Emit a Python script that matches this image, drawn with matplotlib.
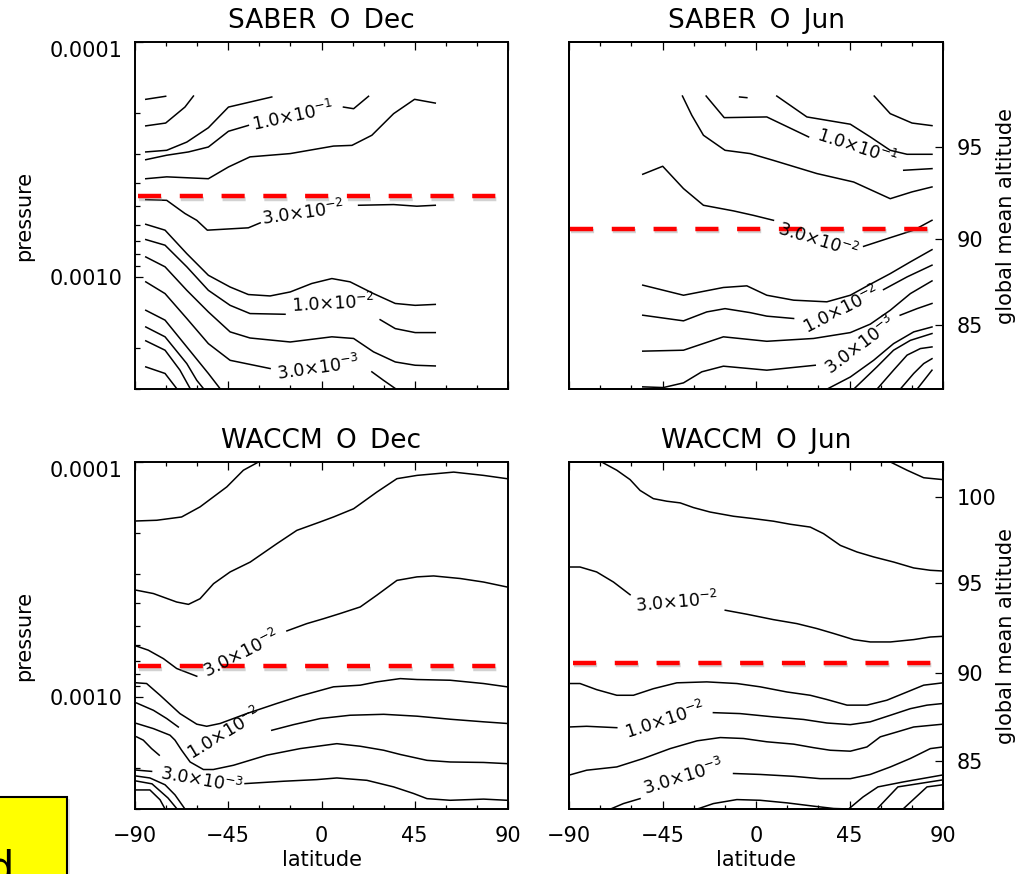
import numpy as np
import matplotlib
matplotlib.use("Agg")
import matplotlib.pyplot as plt
from matplotlib import patheffects as pe
from matplotlib.patches import Rectangle
from matplotlib.transforms import ScaledTranslation
from matplotlib.ticker import FixedLocator, FixedFormatter, LogLocator, NullFormatter, NullLocator, MultipleLocator

plt.rcParams['font.family'] = ['DejaVu Sans']
plt.rcParams['mathtext.fontset'] = 'dejavusans'

# ---------------- data: contour lines as (latitude, log10 pressure) ----------------
saber_dec_lines = [
    ([-84.8, -75.2], [-3.756, -3.769]),
    ([-84.8, -75.2, -65.9, -61.8], [-3.643, -3.655, -3.723, -3.770]),
    ([-84.8, -74.7, -65.0, -54.6, -44.9, -24.0], [-3.532, -3.539, -3.574, -3.635, -3.723, -3.766]),
    ([-84.8, -74.7, -64.2, -54.6, -44.9, -35.3], [-3.499, -3.518, -3.532, -3.553, -3.620, -3.645]),
    ([10.6, 15.5, 22.7], [-3.723, -3.716, -3.769]),
    ([-84.8, -74.7, -54.6, -44.9, -34.5, -15.1, 5.8, 14.7, 24.3, 34.8, 44.9, 54.9],
     [-3.418, -3.426, -3.418, -3.468, -3.511, -3.525, -3.557, -3.560, -3.603, -3.695, -3.756, -3.740]),
    ([-84.8, -74.7, -65.9, -60.2, -55.1, -35.3, -29.6], [-3.329, -3.326, -3.270, -3.241, -3.199, -3.209, -3.230]),
    ([17.9, 34.8, 46.0, 54.9], [-3.305, -3.308, -3.301, -3.305]),
    ([-84.8, -75.5, -65.0, -54.6, -44.1, -35.3, -24.8, -15.1, -4.7, 5.0, 13.8, 25.1, 35.6, 45.2, 54.9],
     [-3.224, -3.199, -3.099, -3.007, -2.957, -2.925, -2.919, -2.936, -2.972, -2.993, -2.979, -2.929, -2.887, -2.879, -2.883]),
    ([-84.8, -75.5, -65.0, -54.6, -44.1, -34.5, -17.6], [-3.159, -3.135, -3.043, -2.943, -2.879, -2.844, -2.841]),
    ([28.3, 35.6, 45.2, 54.9], [-2.818, -2.780, -2.763, -2.763]),
    ([-84.8, -75.5, -65.0, -54.6, -44.1, -34.5, -15.1, 5.0, 15.5, 25.1, 35.6, 45.2, 54.9],
     [-3.085, -3.043, -2.943, -2.851, -2.766, -2.740, -2.723, -2.745, -2.738, -2.681, -2.638, -2.624, -2.621]),
    ([-84.8, -75.5, -65.0, -54.6, -44.1, -24.8], [-2.979, -2.929, -2.823, -2.716, -2.645, -2.610]),
    ([24.3, 29.9, 35.6], [-2.596, -2.560, -2.525]),
    ([-84.8, -75.5, -65.0, -54.6, -49.0], [-2.858, -2.816, -2.702, -2.589, -2.525]),
    ([-84.8, -75.5, -65.0, -60.2, -57.0], [-2.787, -2.745, -2.631, -2.560, -2.525]),
    ([-84.8, -75.5, -68.3, -63.4], [-2.728, -2.688, -2.603, -2.525]),
    ([-84.8, -75.5, -69.9], [-2.617, -2.589, -2.525]),
]
saber_dec_labels = [
    (r'1.0$\times$10$^{-1}$', -13.5, -3.681, 12),
    (r'3.0$\times$10$^{-2}$', -8.7, -3.270, 8),
    (r'1.0$\times$10$^{-2}$', 5.8, -2.887, 3),
    (r'3.0$\times$10$^{-3}$', -1.5, -2.610, 8),
]

saber_jun_lines = [
    ([-35.4, -30.9, -25.3, -14.9, -2.8, 8.4, 29.3, 47.0, 64.6, 75.1, 84.7],
     [-3.770, -3.688, -3.603, -3.539, -3.525, -3.496, -3.440, -3.404, -3.333, -3.362, -3.383]),
    ([-24.0, -15.3, 5.2, 25.3], [-3.770, -3.678, -3.681, -3.596]),
    ([71.1, 84.7], [-3.454, -3.461]),
    ([10.0, 24.5, 45.4, 55.0, 64.6, 72.7, 84.7], [-3.770, -3.681, -3.650, -3.596, -3.539, -3.522, -3.522]),
    ([-7.9, -4.4], [-3.766, -3.763]),
    ([56.9, 64.6, 75.1, 84.7], [-3.770, -3.695, -3.655, -3.644]),
    ([-54.5, -44.9, -34.9, -25.3, -10.8, -1.2, 8.4], [-3.437, -3.471, -3.376, -3.305, -3.281, -3.262, -3.241]),
    ([51.8, 64.6, 75.9, 84.7], [-3.130, -3.167, -3.199, -3.241]),
    ([-54.5, -34.9, -15.7, -4.4, 5.2, 18.1, 34.1, 45.4, 54.2, 64.6, 74.3, 84.7],
     [-2.965, -2.922, -2.955, -2.962, -2.922, -2.901, -2.894, -2.922, -2.965, -3.014, -3.064, -3.116]),
    ([-54.5, -34.9, -23.7, -14.9, -2.8, 5.2, 18.1], [-2.837, -2.813, -2.851, -2.865, -2.848, -2.833, -2.823]),
    ([61.4, 72.7, 84.7], [-2.946, -3.000, -3.050]),
    ([-54.5, -34.9, -15.7, 5.2, 27.7, 45.4, 55.0, 64.6, 74.3, 84.7],
     [-2.684, -2.688, -2.745, -2.726, -2.738, -2.763, -2.799, -2.858, -2.929, -2.983]),
    ([-54.5, -44.6, -34.9, -26.1, -15.7, 5.2, 28.5], [-2.532, -2.529, -2.549, -2.596, -2.620, -2.603, -2.624]),
    ([69.4, 77.5, 84.7], [-2.837, -2.865, -2.887]),
    ([34.1, 45.4, 56.6, 66.2, 75.9, 84.7], [-2.522, -2.574, -2.645, -2.716, -2.766, -2.787]),
    ([47.0, 58.2, 66.2, 74.3, 84.7], [-2.522, -2.617, -2.688, -2.730, -2.759]),
    ([58.2, 66.2, 72.7, 79.1, 84.7], [-2.522, -2.603, -2.667, -2.695, -2.702]),
    ([69.4, 75.9, 80.7, 84.7], [-2.522, -2.589, -2.631, -2.652]),
    ([77.5, 84.7], [-2.522, -2.603]),
]
saber_jun_labels = [
    (r'1.0$\times$10$^{-1}$', 48.6, -3.553, -18),
    (r'3.0$\times$10$^{-2}$', 30.1, -3.156, -17),
    (r'1.0$\times$10$^{-2}$', 41.3, -2.858, 27),
    (r'3.0$\times$10$^{-3}$', 50.2, -2.709, 37),
]

waccm_dec_lines = [
    ([-89.2, -79.5, -67.5, -58.6, -45.7, -37.7, -30.4], [-3.749, -3.752, -3.766, -3.809, -3.894, -3.965, -4.0]),
    ([-89.2, -81.1, -69.9, -64.2, -58.6, -52.1, -44.1, -34.4, -21.6, -11.9, -0.6, 5.8, 15.5, 26.7, 36.4, 46.1, 63.8, 78.2, 89.5],
     [-3.454, -3.440, -3.404, -3.394, -3.418, -3.482, -3.532, -3.574, -3.652, -3.709, -3.745, -3.766, -3.801, -3.872, -3.929, -3.943, -3.957, -3.943, -3.929]),
    ([-89.2, -83.6, -76.3, -69.9, -60.2], [-3.216, -3.199, -3.163, -3.121, -3.088]),
    ([-16.7, -7.1, 1.0, 9.0, 18.7, 26.7, 36.4, 46.1, 54.1, 67.0, 78.2, 89.5],
     [-3.281, -3.312, -3.333, -3.355, -3.383, -3.433, -3.496, -3.511, -3.515, -3.504, -3.489, -3.468]),
    ([-89.2, -84.4, -77.9, -68.3, -60.2, -55.4, -48.9, -36.1, -21.6, -10.3, 5.8, 18.7, 26.7, 38.0, 46.1, 62.1, 78.2, 89.5],
     [-3.060, -3.057, -3.007, -2.929, -2.884, -2.875, -2.887, -2.929, -2.972, -3.004, -3.043, -3.050, -3.064, -3.078, -3.074, -3.071, -3.057, -3.043]),
    ([-89.2, -81.1, -74.7, -69.1], [-2.974, -2.943, -2.908, -2.872]),
    ([-24.0, -13.5, -0.6, 13.8, 30.0, 46.1, 62.1, 78.2, 89.5],
     [-2.858, -2.882, -2.908, -2.922, -2.926, -2.918, -2.905, -2.894, -2.887]),
    ([-89.2, -81.1, -73.1, -70.7, -67.5, -63.4, -57.0, -52.2, -42.5, -26.4, -10.3, 7.4, 18.7, 30.0, 38.0, 50.9, 62.1, 78.2, 89.5],
     [-2.887, -2.865, -2.837, -2.816, -2.773, -2.723, -2.691, -2.691, -2.709, -2.752, -2.780, -2.801, -2.790, -2.773, -2.755, -2.730, -2.723, -2.721, -2.716]),
    ([-89.2, -86.0, -82.0, -78.3], [-2.830, -2.816, -2.780, -2.752]),
    ([-90.0, -82.0], [-2.689, -2.683]),
    ([-36.9, -18.4, -2.3, 7.4, 21.9, 34.8, 44.4, 50.9, 62.1, 78.2, 89.5],
     [-2.631, -2.641, -2.648, -2.655, -2.645, -2.617, -2.589, -2.567, -2.560, -2.565, -2.560]),
    ([-90.0, -82.8, -75.5, -70.7, -65.9], [-2.664, -2.655, -2.626, -2.583, -2.523]),
    ([-90.0, -81.8, -74.1, -69.7], [-2.643, -2.630, -2.570, -2.523]),
    ([-90.0, -82.8, -77.9, -75.5], [-2.604, -2.604, -2.562, -2.523]),
]
waccm_dec_labels = [
    (r'3.0$\times$10$^{-2}$', -38.5, -3.184, 27),
    (r'1.0$\times$10$^{-2}$', -47.0, -2.844, 31),
    (r'3.0$\times$10$^{-3}$', -58.1, -2.643, -10),
]

waccm_jun_lines = [
    ([-74.3, -67.0, -60.6, -55.8, -49.4, -42.9, -36.5, -30.1, -22.1, -10.8, -1.2, 8.4, 16.5, 26.1, 32.5, 40.6, 48.6, 56.6, 66.3, 75.9, 83.9, 90.0],
     [-4.0, -3.965, -3.925, -3.879, -3.844, -3.833, -3.826, -3.806, -3.787, -3.769, -3.759, -3.748, -3.735, -3.723, -3.695, -3.645, -3.617, -3.596, -3.574, -3.549, -3.539, -3.536]),
    ([64.7, 72.7, 80.7, 90.0], [-4.0, -3.965, -3.933, -3.925]),
    ([-90.0, -84.7, -76.7, -68.6, -60.6], [-3.553, -3.553, -3.532, -3.489, -3.435]),
    ([-14.8, -4.4, 8.4, 19.7, 29.3, 37.4, 47.0, 55.0, 64.7, 75.9, 83.9, 90.0],
     [-3.369, -3.352, -3.329, -3.312, -3.291, -3.270, -3.244, -3.234, -3.234, -3.244, -3.255, -3.258]),
    ([-90.0, -84.7, -76.7, -67.0, -59.0, -49.4, -38.1, -23.7, -9.2, 2.0, 14.9, 26.1, 34.1, 43.8, 53.4, 63.0, 72.7, 80.7, 90.0],
     [-3.057, -3.057, -3.031, -3.007, -3.007, -3.035, -3.060, -3.064, -3.057, -3.043, -3.021, -3.007, -2.989, -2.965, -2.965, -2.986, -3.021, -3.050, -3.060]),
    ([-90.0, -81.5, -67.0], [-2.872, -2.875, -2.869]),
    ([-20.5, -7.6, 8.4, 22.9, 34.1, 45.4, 55.0, 64.7, 74.3, 82.3, 90.0],
     [-2.933, -2.929, -2.915, -2.904, -2.889, -2.882, -2.894, -2.922, -2.950, -2.965, -2.972]),
    ([-90.0, -81.5, -67.0, -54.2, -41.3, -28.4, -17.2, -6.0, 5.2, 18.1, 27.7, 35.7, 45.4, 53.4, 59.8, 67.9, 75.9, 90.0],
     [-2.667, -2.688, -2.702, -2.738, -2.780, -2.813, -2.827, -2.823, -2.809, -2.799, -2.784, -2.773, -2.769, -2.787, -2.830, -2.851, -2.872, -2.884]),
    ([-70.2, -63.8, -55.8], [-2.522, -2.546, -2.567]),
    ([-10.8, 2.0, 18.1, 30.9, 45.4, 55.0, 64.7, 74.3, 83.9, 90.0],
     [-2.674, -2.670, -2.662, -2.652, -2.652, -2.670, -2.702, -2.738, -2.780, -2.787]),
    ([-28.5, -20.5, -9.2, 2.0, 14.9, 27.7, 37.4, 44.6, 51.5, 58.7, 70.8, 90.0],
     [-2.522, -2.546, -2.563, -2.560, -2.549, -2.535, -2.525, -2.523, -2.574, -2.617, -2.638, -2.668]),
    ([58.2, 68.3, 90.0], [-2.523, -2.617, -2.647]),
    ([70.8, 82.3, 90.0], [-2.523, -2.617, -2.626]),
]
waccm_jun_labels = [
    (r'3.0$\times$10$^{-2}$', -38.1, -3.404, 5),
    (r'1.0$\times$10$^{-2}$', -43.8, -2.901, 18),
    (r'3.0$\times$10$^{-3}$', -34.9, -2.660, 17),
]

# red dashed reference level: (lat start, lat end, log10 pressure)
red_levels = [(-88.7, 85.2, -3.343), (-89.5, 83.9, -3.204), (-88.7, 85.2, -3.130), (-87.9, 85.5, -3.145)]

titles = ['SABER\u2002O\u2002Dec', 'SABER\u2002O\u2002Jun', 'WACCM\u2002O\u2002Dec', 'WACCM\u2002O\u2002Jun']
lat_ticks = [-90, -45, 0, 45, 90]
p_ticks = [1e-4, 1e-3]
p_tick_labels = ['0.0001', '0.0010']
alt_top = [85, 90, 95]
alt_top_logp = [-2.796, -3.162, -3.553]
alt_bot = [85, 90, 95, 100]
alt_bot_logp = [-2.728, -3.102, -3.485, -3.851]
p_min, p_max = 1e-4, 3.0e-3

# ---------------- figure ----------------
W, H = 1021, 874
fig = plt.figure(figsize=(W / 100, H / 100), dpi=100)

def frac(x0, y0, x1, y1):
    return [x0 / W, 1 - y1 / H, (x1 - x0) / W, (y1 - y0) / H]

boxes = [frac(135, 42, 508, 389), frac(569, 42, 943, 389),
         frac(135, 462, 508, 809), frac(569, 462, 943, 809)]
panels = [(saber_dec_lines, saber_dec_labels), (saber_jun_lines, saber_jun_labels),
          (waccm_dec_lines, waccm_dec_labels), (waccm_jun_lines, waccm_jun_labels)]

for k, (box, (lines, labels)) in enumerate(zip(boxes, panels)):
    ax = fig.add_axes(box)
    left = k in (0, 2)
    bottom = k in (2, 3)
    for lat, lp in lines:
        ax.plot(lat, 10 ** np.array(lp), color='black', lw=1.1, solid_joinstyle='round')
    for txt, la, lp, rot in labels:
        ax.text(la, 10 ** lp, txt, rotation=rot, ha='center', va='center',
                fontsize=12.5, rotation_mode='anchor')
    la0, la1, lp = red_levels[k]
    ax.plot([la0, la1], [10 ** lp, 10 ** lp], color='#ff0000', lw=3.2, dashes=(5.2, 4.2),
            path_effects=[pe.SimpleLineShadow(offset=(0.8, -1.6), shadow_color='gray', alpha=0.35),
                          pe.Normal()])
    ax.set_xlim(-90, 90)
    ax.set_yscale('log')
    ax.set_ylim(p_max, p_min)
    ax.set_title(titles[k], fontsize=19, pad=10)
    for s in ax.spines.values():
        s.set_linewidth(1.4)
    ax.xaxis.set_major_locator(FixedLocator(lat_ticks))
    ax.xaxis.set_minor_locator(MultipleLocator(15))
    ax.tick_params(axis='x', which='both', direction='in', top=True, bottom=True,
                   labelsize=15, pad=12, width=0.9, labelbottom=bottom)
    ax.tick_params(axis='x', which='major', length=5.5)
    ax.tick_params(axis='x', which='minor', length=3.2)
    if bottom:
        ax.set_xlabel('latitude', fontsize=15, labelpad=3)
    if left:
        ax.yaxis.set_major_locator(FixedLocator(p_ticks))
        ax.yaxis.set_major_formatter(FixedFormatter(p_tick_labels))
        ax.yaxis.set_minor_locator(LogLocator(base=10, subs=np.arange(2, 10)))
        ax.yaxis.set_minor_formatter(NullFormatter())
        ax.tick_params(axis='y', which='both', direction='in', left=True, right=False,
                       labelsize=15, pad=9, width=0.9)
        ax.tick_params(axis='y', which='major', length=6)
        ax.tick_params(axis='y', which='minor', length=3.5)
        ax.set_ylabel('pressure', fontsize=15, labelpad=11)
        ticks = ax.yaxis.get_major_ticks()
        top_tick = ticks[0]
        top_tick.label1.set_transform(top_tick.label1.get_transform()
                                      + ScaledTranslation(0, -5 / 72, fig.dpi_scale_trans))
    else:
        ax.yaxis.set_major_locator(NullLocator())
        ax.yaxis.set_minor_locator(NullLocator())
        ax2 = ax.twinx()
        ax2.set_yscale('log')
        ax2.set_ylim(p_max, p_min)
        alts, alps = (alt_top, alt_top_logp) if k == 1 else (alt_bot, alt_bot_logp)
        ax2.yaxis.set_major_locator(FixedLocator(10 ** np.array(alps)))
        ax2.yaxis.set_major_formatter(FixedFormatter([str(a) for a in alts]))
        ax2.yaxis.set_minor_locator(NullLocator())
        ax2.tick_params(axis='y', which='major', direction='in', length=6, width=0.9,
                        labelsize=15, pad=10)
        ax2.set_ylabel('global mean altitude', fontsize=15)
        ax2.yaxis.set_label_coords((996 - 569) / 374, 0.5)
        for s in ax2.spines.values():
            s.set_linewidth(1.4)

# yellow note box, cut off at the lower-left corner
fig.add_artist(Rectangle((-12 / W, -0.03), (12 + 70) / W, 0.03 + 1 - 799 / H, transform=fig.transFigure,
                         facecolor='#d8d8d8', edgecolor='none', alpha=0.6, zorder=5))
fig.add_artist(Rectangle((-12 / W, -0.03), (12 + 67) / W, 0.03 + 1 - 797 / H, transform=fig.transFigure,
                         facecolor='#ffff00', edgecolor='black', lw=1.5, zorder=6))
fig.text(14 / W, 1 - 882 / H, 'd', ha='right', va='baseline', fontsize=30, zorder=7)

fig.savefig('out.png', dpi=100)
